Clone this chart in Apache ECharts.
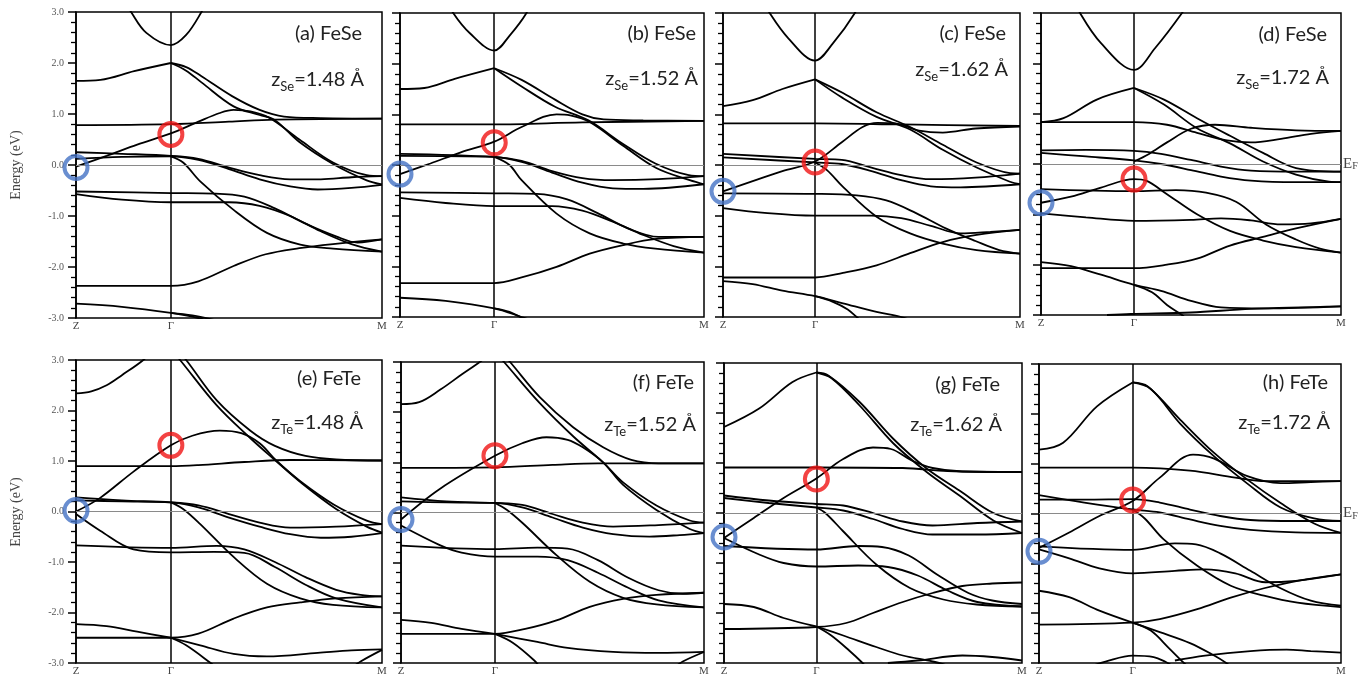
<!DOCTYPE html>
<html>
<head>
<meta charset="utf-8">
<script src="https://cdn.jsdelivr.net/npm/echarts@6/dist/echarts.min.js"></script>
<style>
  html, body { margin: 0; padding: 0; background: #fff; }
  #chart { width: 1370px; height: 677px; }
</style>
</head>
<body>
<div id="chart"></div>
<script>
// k path Z - Γ - M, Γ sits at 31% of the path
const gammaK = 0.31;
const kTickVals = [0, gammaK, 1];
const kTickNames = ['Z', 'Γ', 'M'];

// panel captions
const panelTags = ['(a) FeSe', '(b) FeSe', '(c) FeSe', '(d) FeSe', '(e) FeTe', '(f) FeTe', '(g) FeTe', '(h) FeTe'];
const zElem = ['Se', 'Se', 'Se', 'Se', 'Te', 'Te', 'Te', 'Te'];
const zHeights = ['1.48', '1.52', '1.62', '1.72', '1.48', '1.52', '1.62', '1.72'];

// circled points: red at Γ, blue at Z (energies in eV)
const redE = [0.6, 0.44, 0.06, -0.3, 1.31, 1.13, 0.68, 0.27];
const blueE = [-0.05, -0.18, -0.52, -0.77, 0.02, -0.14, -0.48, -0.76];

// bands: each band is a list of [k, E(eV)]
const bandsA = [
  [[0.14,3.4],[0.18,3.0],[0.23,2.59],[0.31,2.35],[0.36,2.55],[0.41,3.0],[0.44,3.35]],
  [[0,1.65],[0.08,1.67],[0.19,1.84],[0.31,2.0]],
  [[0.31,2.0],[0.36,1.92],[0.41,1.74],[0.51,1.35],[0.6,1.08],[0.68,0.95],[0.8,0.92],[1.0,0.91]],
  [[0.31,2.0],[0.36,1.85],[0.41,1.62],[0.515,1.15],[0.6,0.98],[0.65,0.88],[0.73,0.45],[0.84,0.02],[0.95,-0.3],[1.0,-0.38]],
  [[0,-0.03],[0.1,0.18],[0.2,0.4],[0.31,0.62],[0.4,0.85],[0.47,1.02],[0.515,1.08],[0.57,1.05],[0.63,0.93],[0.73,0.5],[0.84,0.05],[0.95,-0.2],[1.0,-0.22]],
  [[0,0.78],[0.31,0.8],[0.5,0.85],[0.65,0.89],[1.0,0.91]],
  [[0,0.25],[0.15,0.22],[0.31,0.18],[0.4,0.12],[0.5,-0.05],[0.6,-0.2],[0.7,-0.28],[0.8,-0.28],[0.9,-0.24],[1.0,-0.22]],
  [[0,0.12],[0.15,0.16],[0.31,0.17],[0.4,0.1],[0.5,-0.08],[0.6,-0.28],[0.7,-0.42],[0.79,-0.48],[0.9,-0.45],[1.0,-0.39]],
  [[0.31,0.17],[0.35,0.05],[0.406,-0.32],[0.515,-0.88],[0.624,-1.33],[0.733,-1.56],[0.84,-1.64],[1.0,-1.7]],
  [[0,-0.52],[0.31,-0.55],[0.45,-0.56],[0.55,-0.62],[0.65,-0.85],[0.75,-1.15],[0.85,-1.4],[0.92,-1.52],[1.0,-1.46]],
  [[0,-0.57],[0.15,-0.68],[0.31,-0.73],[0.5,-0.73],[0.6,-0.8],[0.7,-1.0],[0.8,-1.3],[0.9,-1.55],[1.0,-1.7]],
  [[0,-2.37],[0.31,-2.37],[0.4,-2.28],[0.515,-1.98],[0.62,-1.75],[0.73,-1.63],[0.84,-1.55],[1.0,-1.46]],
  [[0,-2.72],[0.15,-2.78],[0.31,-2.9],[0.4,-3.0],[0.45,-3.1]],
  [[0.31,-2.9],[0.38,-2.95],[0.46,-3.05]]
];
const bandsB = [
  [[0.14,3.4],[0.175,3.0],[0.23,2.6],[0.31,2.26],[0.36,2.55],[0.416,3.0],[0.44,3.35]],
  [[0,1.5],[0.08,1.52],[0.18,1.7],[0.31,1.91]],
  [[0.31,1.91],[0.4,1.68],[0.51,1.29],[0.6,1.0],[0.67,0.9],[0.8,0.88],[1.0,0.87]],
  [[0.31,1.91],[0.4,1.55],[0.51,1.15],[0.62,0.88],[0.73,0.43],[0.84,0.03],[0.95,-0.2],[1.0,-0.22]],
  [[0,-0.18],[0.1,0.03],[0.2,0.25],[0.31,0.46],[0.4,0.75],[0.515,1.0],[0.56,0.98],[0.624,0.85],[0.734,0.38],[0.843,-0.06],[0.953,-0.3],[1.0,-0.38]],
  [[0,0.8],[0.31,0.8],[0.6,0.84],[1.0,0.87]],
  [[0,0.22],[0.31,0.16],[0.4,0.08],[0.5,-0.12],[0.6,-0.26],[0.7,-0.3],[0.85,-0.28],[1.0,-0.22]],
  [[0,0.18],[0.31,0.16],[0.4,0.06],[0.5,-0.15],[0.6,-0.35],[0.7,-0.46],[0.8,-0.47],[1.0,-0.38]],
  [[0.31,0.16],[0.36,0.0],[0.4,-0.3],[0.515,-0.96],[0.624,-1.35],[0.734,-1.55],[0.84,-1.65],[1.0,-1.73]],
  [[0,-0.54],[0.31,-0.56],[0.45,-0.57],[0.55,-0.68],[0.65,-0.95],[0.75,-1.25],[0.85,-1.42],[1.0,-1.42]],
  [[0,-0.65],[0.15,-0.75],[0.31,-0.81],[0.5,-0.81],[0.6,-0.9],[0.7,-1.12],[0.8,-1.38],[0.9,-1.6],[1.0,-1.73]],
  [[0,-2.33],[0.31,-2.33],[0.4,-2.22],[0.515,-2.01],[0.624,-1.75],[0.734,-1.58],[0.843,-1.46],[1.0,-1.42]],
  [[0,-2.62],[0.15,-2.68],[0.31,-2.83],[0.4,-3.0],[0.45,-3.1]],
  [[0.31,-2.83],[0.36,-2.9],[0.41,-3.05]]
];
const bandsC = [
  [[0.12,3.4],[0.157,3.0],[0.22,2.5],[0.31,2.06],[0.37,2.4],[0.444,3.0],[0.47,3.35]],
  [[0,1.16],[0.1,1.28],[0.2,1.5],[0.31,1.69]],
  [[0.31,1.69],[0.404,1.42],[0.517,1.04],[0.63,0.75],[0.74,0.4],[0.854,0.05],[0.966,-0.16],[1.0,-0.17]],
  [[0.31,1.69],[0.404,1.32],[0.517,0.95],[0.63,0.7],[0.74,0.3],[0.854,-0.05],[0.966,-0.33],[1.0,-0.38]],
  [[0,-0.52],[0.1,-0.32],[0.2,-0.12],[0.31,0.07],[0.4,0.45],[0.47,0.75],[0.52,0.83],[0.58,0.82],[0.66,0.68],[0.74,0.64],[0.85,0.72],[1.0,0.76]],
  [[0,0.82],[0.31,0.82],[0.6,0.8],[1.0,0.77]],
  [[0,0.22],[0.31,0.12],[0.4,0.1],[0.5,-0.05],[0.6,-0.2],[0.7,-0.28],[0.85,-0.25],[1.0,-0.17]],
  [[0,0.15],[0.31,0.05],[0.4,0.02],[0.5,-0.12],[0.6,-0.3],[0.7,-0.42],[0.8,-0.44],[1.0,-0.38]],
  [[0.31,0.05],[0.35,-0.1],[0.404,-0.43],[0.517,-1.02],[0.63,-1.35],[0.74,-1.55],[0.854,-1.68],[1.0,-1.75]],
  [[0,-0.56],[0.31,-0.57],[0.45,-0.6],[0.55,-0.7],[0.65,-0.95],[0.75,-1.25],[0.85,-1.5],[0.93,-1.68],[1.0,-1.75]],
  [[0,-0.85],[0.15,-0.95],[0.31,-1.0],[0.5,-1.0],[0.6,-1.05],[0.7,-1.2],[0.8,-1.35],[0.9,-1.32],[1.0,-1.28]],
  [[0,-2.22],[0.31,-2.22],[0.404,-2.13],[0.517,-1.98],[0.63,-1.74],[0.74,-1.52],[0.854,-1.38],[1.0,-1.28]],
  [[0,-2.29],[0.1,-2.35],[0.2,-2.48],[0.31,-2.59],[0.404,-2.73],[0.517,-2.9],[0.6,-3.0],[0.65,-3.1]],
  [[0.31,-2.59],[0.37,-2.7],[0.42,-2.85],[0.45,-3.0],[0.47,-3.1]]
];
const bandsD = [
  [[0.1,3.4],[0.13,3.0],[0.2,2.4],[0.31,1.87],[0.38,2.3],[0.47,3.0],[0.5,3.3]],
  [[0,0.83],[0.075,0.91],[0.186,1.28],[0.31,1.51]],
  [[0.31,1.51],[0.41,1.28],[0.52,0.91],[0.63,0.56],[0.74,0.22],[0.85,-0.08],[1.0,-0.15]],
  [[0.31,1.51],[0.41,1.18],[0.52,0.71],[0.63,0.41],[0.74,0.05],[0.85,-0.21],[0.96,-0.35],[1.0,-0.36]],
  [[0.31,0.05],[0.36,0.2],[0.42,0.43],[0.5,0.7],[0.58,0.78],[0.7,0.72],[0.85,0.67],[1.0,0.66]],
  [[0,0.83],[0.31,0.83],[0.42,0.78],[0.52,0.62],[0.62,0.47],[0.7,0.43],[0.8,0.5],[0.9,0.6],[1.0,0.66]],
  [[0,0.27],[0.15,0.28],[0.31,0.26],[0.4,0.2],[0.5,0.08],[0.6,-0.05],[0.7,-0.13],[0.85,-0.15],[1.0,-0.15]],
  [[0,0.22],[0.15,0.15],[0.31,0.07],[0.4,0.0],[0.5,-0.12],[0.6,-0.25],[0.7,-0.33],[0.85,-0.36],[1.0,-0.36]],
  [[0,-0.77],[0.1,-0.65],[0.2,-0.47],[0.31,-0.3],[0.35,-0.33],[0.42,-0.6],[0.52,-1.0],[0.63,-1.33],[0.74,-1.52],[0.85,-1.65],[1.0,-1.76]],
  [[0,-0.5],[0.31,-0.54],[0.45,-0.52],[0.55,-0.57],[0.65,-0.75],[0.75,-1.2],[0.85,-1.5],[0.93,-1.68],[1.0,-1.76]],
  [[0,-0.98],[0.15,-1.06],[0.31,-1.13],[0.5,-1.11],[0.6,-1.08],[0.7,-1.12],[0.8,-1.2],[0.9,-1.18],[1.0,-1.09]],
  [[0,-2.07],[0.31,-2.07],[0.42,-2.0],[0.52,-1.88],[0.63,-1.62],[0.74,-1.45],[0.85,-1.28],[1.0,-1.09]],
  [[0,-1.95],[0.1,-2.03],[0.2,-2.2],[0.31,-2.4],[0.4,-2.52],[0.5,-2.72],[0.6,-2.85],[0.75,-2.87],[1.0,-2.83]],
  [[0.31,-2.4],[0.37,-2.55],[0.42,-2.8],[0.47,-3.0],[0.49,-3.1]],
  [[0.22,-3.0],[0.3,-2.98],[0.5,-2.95],[0.7,-2.88],[1.0,-2.83]]
];
const bandsE = [
  [[0,2.34],[0.05,2.38],[0.1,2.5],[0.15,2.7],[0.22,3.0],[0.25,3.2]],
  [[0.31,3.2],[0.34,3.0],[0.46,2.1],[0.57,1.45],[0.65,1.02],[0.74,0.55],[0.85,0.05],[0.95,-0.3],[1.0,-0.42]],
  [[0.33,3.2],[0.36,3.0],[0.46,2.2],[0.57,1.6],[0.65,1.3],[0.75,1.1],[0.85,1.03],[1.0,1.01]],
  [[0,0.0],[0.079,0.27],[0.188,0.79],[0.31,1.31],[0.38,1.5],[0.47,1.6],[0.54,1.55],[0.6,1.35],[0.656,1.0],[0.733,0.6],[0.842,0.14],[0.95,-0.18],[1.0,-0.25]],
  [[0,0.9],[0.31,0.9],[0.4,0.92],[0.55,0.98],[0.7,1.02],[1.0,1.01]],
  [[0,0.28],[0.15,0.22],[0.31,0.18],[0.4,0.12],[0.5,-0.05],[0.6,-0.22],[0.7,-0.32],[0.85,-0.3],[1.0,-0.25]],
  [[0,0.22],[0.15,0.2],[0.31,0.18],[0.4,0.08],[0.5,-0.12],[0.6,-0.3],[0.7,-0.45],[0.8,-0.52],[0.9,-0.5],[1.0,-0.43]],
  [[0.31,0.18],[0.35,0.05],[0.406,-0.25],[0.515,-0.9],[0.624,-1.43],[0.733,-1.72],[0.84,-1.85],[1.0,-1.9]],
  [[0,-0.05],[0.079,-0.38],[0.188,-0.75],[0.31,-0.81],[0.45,-0.8],[0.55,-0.82],[0.65,-1.1],[0.75,-1.45],[0.85,-1.72],[1.0,-1.9]],
  [[0,-0.67],[0.31,-0.72],[0.46,-0.68],[0.55,-0.75],[0.65,-1.0],[0.75,-1.3],[0.85,-1.55],[0.93,-1.65],[1.0,-1.68]],
  [[0,-2.5],[0.31,-2.5],[0.4,-2.42],[0.515,-2.12],[0.624,-1.9],[0.733,-1.8],[0.85,-1.72],[1.0,-1.68]],
  [[0,-2.23],[0.1,-2.27],[0.2,-2.38],[0.31,-2.5]],
  [[0.31,-2.5],[0.406,-2.65],[0.515,-2.82],[0.624,-2.87],[0.79,-2.8],[0.9,-2.75],[1.0,-2.73]],
  [[0.31,-2.5],[0.36,-2.65],[0.44,-3.0],[0.46,-3.1]],
  [[0.9,-3.1],[0.93,-2.97],[1.0,-2.74]]
];
const bandsF = [
  [[0,2.16],[0.06,2.2],[0.13,2.45],[0.2,2.75],[0.26,3.0],[0.29,3.15]],
  [[0.31,3.2],[0.34,3.0],[0.458,2.18],[0.568,1.52],[0.667,1.0],[0.733,0.6],[0.843,0.14],[0.953,-0.16],[1.0,-0.2]],
  [[0.33,3.2],[0.36,3.0],[0.458,2.3],[0.568,1.7],[0.667,1.3],[0.76,1.05],[0.85,0.98],[1.0,0.98]],
  [[0,-0.14],[0.128,0.47],[0.31,1.13],[0.4,1.38],[0.48,1.5],[0.55,1.45],[0.6,1.3],[0.667,1.0],[0.733,0.55],[0.843,0.05],[0.953,-0.33],[1.0,-0.41]],
  [[0,0.89],[0.31,0.9],[0.5,0.95],[0.65,0.98],[1.0,0.98]],
  [[0,0.3],[0.15,0.22],[0.31,0.19],[0.4,0.15],[0.5,-0.03],[0.6,-0.2],[0.7,-0.28],[0.85,-0.25],[1.0,-0.2]],
  [[0,0.22],[0.15,0.2],[0.31,0.19],[0.4,0.1],[0.5,-0.1],[0.6,-0.3],[0.7,-0.43],[0.82,-0.48],[0.92,-0.45],[1.0,-0.41]],
  [[0.31,0.19],[0.35,0.05],[0.403,-0.22],[0.513,-0.85],[0.623,-1.38],[0.733,-1.7],[0.843,-1.83],[1.0,-1.89]],
  [[0,-0.26],[0.128,-0.65],[0.2,-0.8],[0.31,-0.88],[0.45,-0.88],[0.55,-0.95],[0.65,-1.2],[0.75,-1.5],[0.85,-1.75],[1.0,-1.89]],
  [[0,-0.66],[0.31,-0.73],[0.45,-0.7],[0.55,-0.72],[0.65,-0.95],[0.75,-1.3],[0.85,-1.55],[0.93,-1.62],[1.0,-1.6]],
  [[0,-2.42],[0.31,-2.42],[0.41,-2.32],[0.513,-2.15],[0.623,-1.88],[0.733,-1.72],[0.843,-1.64],[1.0,-1.6]],
  [[0,-2.14],[0.1,-2.2],[0.2,-2.32],[0.31,-2.42]],
  [[0.31,-2.42],[0.45,-2.58],[0.55,-2.7],[0.7,-2.78],[0.85,-2.8],[1.0,-2.78]],
  [[0.31,-2.42],[0.37,-2.6],[0.44,-2.95],[0.46,-3.1]],
  [[0.9,-3.1],[0.93,-2.97],[1.0,-2.78]]
];
const bandsG = [
  [[0,1.72],[0.118,2.09],[0.23,2.62],[0.31,2.81]],
  [[0.31,2.81],[0.35,2.75],[0.455,2.22],[0.567,1.49],[0.68,0.89],[0.79,0.45],[0.904,0.0],[1.0,-0.17]],
  [[0.31,2.81],[0.36,2.7],[0.455,2.15],[0.567,1.4],[0.68,0.82],[0.79,0.35],[0.904,-0.15],[1.0,-0.4]],
  [[0,-0.5],[0.1,-0.1],[0.2,0.3],[0.31,0.69],[0.4,1.08],[0.5,1.31],[0.56,1.28],[0.63,1.05],[0.7,0.9],[0.8,0.83],[1.0,0.82]],
  [[0,0.91],[0.31,0.91],[0.6,0.9],[0.75,0.84],[1.0,0.82]],
  [[0,0.35],[0.15,0.25],[0.31,0.18],[0.4,0.15],[0.5,0.0],[0.6,-0.17],[0.7,-0.25],[0.85,-0.2],[1.0,-0.17]],
  [[0,0.3],[0.15,0.2],[0.31,0.11],[0.4,0.05],[0.5,-0.12],[0.6,-0.32],[0.7,-0.43],[0.85,-0.43],[1.0,-0.4]],
  [[0.31,0.11],[0.34,0.0],[0.399,-0.36],[0.511,-1.03],[0.624,-1.5],[0.736,-1.73],[0.848,-1.83],[1.0,-1.87]],
  [[0,-0.5],[0.118,-0.83],[0.2,-1.0],[0.31,-1.07],[0.45,-1.05],[0.55,-1.08],[0.65,-1.25],[0.75,-1.55],[0.85,-1.78],[1.0,-1.87]],
  [[0,-0.66],[0.31,-0.73],[0.45,-0.66],[0.53,-0.68],[0.62,-0.85],[0.72,-1.25],[0.82,-1.6],[0.9,-1.75],[1.0,-1.82]],
  [[0,-2.32],[0.31,-2.28],[0.41,-2.2],[0.5,-2.0],[0.6,-1.78],[0.7,-1.6],[0.8,-1.46],[0.9,-1.41],[1.0,-1.39]],
  [[0,-1.82],[0.1,-1.88],[0.2,-2.1],[0.31,-2.27]],
  [[0.31,-2.27],[0.4,-2.45],[0.511,-2.68],[0.6,-2.85],[0.7,-2.97],[0.75,-3.05]],
  [[0.31,-2.27],[0.36,-2.45],[0.42,-2.75],[0.465,-3.0],[0.48,-3.1]],
  [[0.55,-3.0],[0.65,-2.95],[0.8,-2.85],[0.9,-2.88],[1.0,-2.95]]
];
const bandsH = [
  [[0,1.28],[0.08,1.42],[0.192,2.15],[0.31,2.63]],
  [[0.31,2.63],[0.36,2.55],[0.468,1.88],[0.579,1.22],[0.69,0.68],[0.8,0.21],[0.911,-0.2],[1.0,-0.39]],
  [[0.31,2.63],[0.37,2.5],[0.468,1.8],[0.579,1.15],[0.69,0.6],[0.8,0.12],[0.911,-0.1],[1.0,-0.15]],
  [[0,0.92],[0.31,0.92],[0.5,0.86],[0.65,0.72],[0.75,0.65],[1.0,0.65]],
  [[0,-0.69],[0.1,-0.38],[0.2,-0.05],[0.31,0.25],[0.4,0.72],[0.51,1.18],[0.58,1.1],[0.69,0.75],[0.8,0.61],[0.9,0.63],[1.0,0.65]],
  [[0,0.28],[0.15,0.28],[0.31,0.29],[0.4,0.22],[0.5,0.08],[0.6,-0.05],[0.7,-0.13],[0.85,-0.15],[1.0,-0.15]],
  [[0,0.37],[0.15,0.22],[0.31,0.08],[0.4,0.02],[0.5,-0.12],[0.6,-0.25],[0.7,-0.33],[0.85,-0.38],[1.0,-0.39]],
  [[0.31,0.08],[0.35,-0.1],[0.413,-0.52],[0.524,-1.05],[0.635,-1.45],[0.745,-1.65],[0.856,-1.79],[1.0,-1.88]],
  [[0,-0.72],[0.1,-0.9],[0.2,-1.1],[0.31,-1.2],[0.45,-1.15],[0.55,-1.12],[0.65,-1.2],[0.75,-1.38],[0.85,-1.35],[1.0,-1.22]],
  [[0,-0.66],[0.31,-0.73],[0.45,-0.6],[0.52,-0.62],[0.6,-0.8],[0.7,-1.15],[0.8,-1.5],[0.9,-1.75],[1.0,-1.85]],
  [[0,-2.23],[0.31,-2.19],[0.4,-2.12],[0.524,-1.92],[0.635,-1.69],[0.745,-1.5],[0.856,-1.35],[1.0,-1.22]],
  [[0,-1.55],[0.1,-1.68],[0.2,-1.95],[0.31,-2.19]],
  [[0.31,-2.19],[0.37,-2.35],[0.43,-2.7],[0.48,-3.0],[0.5,-3.1]],
  [[0.31,-2.19],[0.4,-2.38],[0.5,-2.6],[0.58,-2.85],[0.62,-3.0],[0.64,-3.1]],
  [[0.18,-3.05],[0.22,-2.97],[0.31,-2.85],[0.38,-2.88],[0.42,-2.98],[0.44,-3.05]],
  [[0.45,-2.95],[0.55,-2.85],[0.7,-2.76],[0.82,-2.73],[0.9,-2.76],[1.0,-2.79]]
];
const panelBands = [bandsA, bandsB, bandsC, bandsD, bandsE, bandsF, bandsG, bandsH];

// panel boxes in pixels
const boxes = [
  { left: 76, top: 12, width: 306, height: 306 },
  { left: 400, top: 13, width: 304, height: 304 },
  { left: 723, top: 13, width: 297, height: 304 },
  { left: 1041, top: 13, width: 300, height: 302 },
  { left: 76, top: 360, width: 306, height: 307 },
  { left: 401, top: 362, width: 303, height: 304 },
  { left: 724, top: 363, width: 298, height: 303 },
  { left: 1039, top: 364, width: 302, height: 300 }
];
// caption anchors: [right x, tag y, z-line y]
const captionPos = [
  [362, 34, 80], [696, 34, 79], [1006, 34, 70], [1327, 35, 78],
  [361, 379, 423], [694, 383, 425], [1000, 385, 425], [1328, 383, 423]
];

const serif = '"Liberation Serif", "DejaVu Serif", serif';
const sans = 'Lato, "Open Sans", sans-serif';

const chart = echarts.init(document.getElementById('chart'));

const grid = [], xAxis = [], yAxis = [], series = [], graphic = [];

panelBands.forEach(function (bands, p) {
  const b = boxes[p];
  grid.push({
    left: b.left, top: b.top, width: b.width, height: b.height,
    show: true, borderColor: '#000', borderWidth: 1.5, backgroundColor: 'transparent'
  });
  xAxis.push({
    gridIndex: p, type: 'value', min: 0, max: 1,
    axisLine: { show: false }, axisTick: { show: false }, splitLine: { show: false },
    axisLabel: {
      customValues: kTickVals,
      formatter: function (v) {
        const i = kTickVals.indexOf(v);
        return i >= 0 ? kTickNames[i] : '';
      },
      fontFamily: serif, fontSize: 11, color: '#444', margin: 3
    }
  });
  yAxis.push({
    gridIndex: p, type: 'value', min: -3, max: 3, interval: 1,
    axisLine: { show: true, lineStyle: { color: '#000', width: 1.5 } },
    axisTick: { show: true, length: 8, lineStyle: { color: '#000', width: 1.5 } },
    minorTick: { show: true, splitNumber: 5, length: 5, lineStyle: { color: '#000', width: 1.3 } },
    splitLine: { show: false },
    axisLabel: {
      show: p % 4 === 0,
      formatter: function (v) { return v.toFixed(1); },
      fontFamily: serif, fontSize: 10, color: '#555', margin: 12
    }
  });

  // Γ line and Fermi level
  const showEF = (p === 3 || p === 7);
  series.push({
    type: 'line', xAxisIndex: p, yAxisIndex: p, data: [], silent: true,
    markLine: {
      silent: true, symbol: ['none', 'none'], animation: false,
      data: [
        { xAxis: gammaK, lineStyle: { color: '#000', width: 1.5, type: 'solid' }, label: { show: false } },
        {
          yAxis: 0, lineStyle: { color: '#8a8a8a', width: 1, type: 'solid' },
          label: {
            show: showEF, position: 'end', distance: 2,
            formatter: '{e|E}{f|F}',
            rich: {
              e: { fontFamily: serif, fontSize: 15, color: '#444' },
              f: { fontFamily: serif, fontSize: 10, color: '#444', verticalAlign: 'bottom' }
            }
          }
        }
      ]
    }
  });

  bands.forEach(function (band) {
    series.push({
      type: 'line', xAxisIndex: p, yAxisIndex: p, data: band,
      smooth: 0.35, showSymbol: false, silent: true, clip: true,
      lineStyle: { color: '#000', width: 1.8 }
    });
  });

  series.push({
    type: 'scatter', xAxisIndex: p, yAxisIndex: p, clip: false, silent: true, z: 5,
    data: [[gammaK, redE[p]]], symbol: 'circle', symbolSize: 23,
    itemStyle: { color: 'rgba(0,0,0,0)', borderColor: '#f01414', borderWidth: 4 }
  });
  series.push({
    type: 'scatter', xAxisIndex: p, yAxisIndex: p, clip: false, silent: true, z: 5,
    data: [[0, blueE[p]]], symbol: 'circle', symbolSize: 23,
    itemStyle: { color: 'rgba(0,0,0,0)', borderColor: '#4472c4', borderWidth: 4 }
  });

  const c = captionPos[p];
  graphic.push({
    type: 'text', x: c[0], y: c[1], silent: true,
    style: { text: panelTags[p], fill: '#222', font: '20px ' + sans, align: 'right', verticalAlign: 'middle' }
  });
  graphic.push({
    type: 'text', x: c[0] + 2, y: c[2], silent: true,
    style: {
      text: '{m|z}{s|' + zElem[p] + '}{m|=' + zHeights[p] + ' Å}',
      align: 'right', verticalAlign: 'middle',
      rich: {
        m: { fontFamily: sans, fontSize: 20, lineHeight: 26, fill: '#222' },
        s: { fontFamily: sans, fontSize: 13, fill: '#222', verticalAlign: 'bottom' }
      }
    }
  });
});

// y-axis titles
[165, 512].forEach(function (yc) {
  graphic.push({
    type: 'text', x: 16, y: yc, rotation: Math.PI / 2, silent: true,
    style: { text: 'Energy (eV)', fill: '#444', font: '14px ' + serif, align: 'center', verticalAlign: 'middle' }
  });
});

chart.setOption({
  animation: false,
  backgroundColor: '#fff',
  grid: grid,
  xAxis: xAxis,
  yAxis: yAxis,
  series: series,
  graphic: graphic
});
</script>
</body>
</html>
